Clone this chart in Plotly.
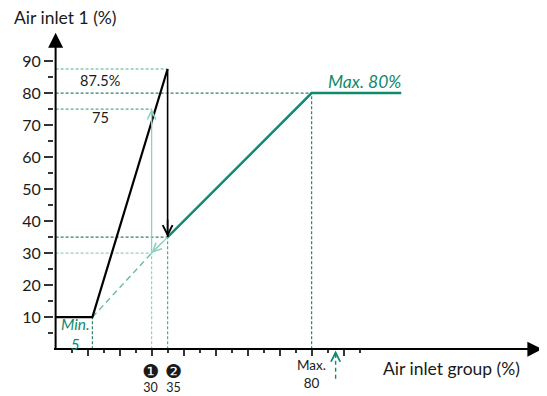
import plotly.graph_objects as go

# ---------------- data ----------------
black_x = [0, 11.5, 35]
black_y = [10, 10, 87.5]
green_x = [35, 80, 108]
green_y = [35, 80, 80]
dash_x = [11.5, 30]
dash_y = [10, 30]

peak_x, peak_y = 35, 87.5      # black arrow down from peak to green line
drop_y = 35
step1_x, step1_y = 30, 30      # light arrow target on dashed line
rise_y = 75                    # light arrow up to 75
cross_x = 87.5                 # arrow on x axis

# guide lines: horizontal from the y axis ; vertical from the x axis
h_guides_y = [87.5, 80, 75, 35, 30]
h_guides_x = [35, 80, 30, 35, 30]
v_guides_x = [11.5, 30, 35, 80]
v_guides_y = [10, 30, 35, 80]

y_ticks = [10, 20, 30, 40, 50, 60, 70, 80, 90]
y_minor = [5, 15, 25, 35, 45, 55, 65, 75, 85]
x_ticks = [10, 20, 30, 40, 50, 60, 70, 80, 90]
x_minor = [5, 15, 25, 35, 45, 55, 65, 75, 85, 95]

X_RANGE = [-0.5, 152.3]
Y_RANGE = [-14, 100]

# ---------------- styles ----------------
FONT = "Lato"
TXT = "#1a1a1a"
GREEN = "#0f8a6e"
LIGHT = "#8fd2c0"
MID = "#4fae98"
DARK = "#2f8171"

h_colors = [MID, DARK, MID, DARK, LIGHT]
v_colors = [DARK, LIGHT, MID, DARK]

# page has an 8px body margin -> figure is 539x388 placed at (8,8)
W, H = 539, 388
M = dict(l=46, r=4, t=21, b=2.2)
PW = W - M["l"] - M["r"]
PH = H - M["t"] - M["b"]

fig = go.Figure()

for xe, yv, c in zip(h_guides_x, h_guides_y, h_colors):
    fig.add_trace(go.Scatter(x=[0, xe], y=[yv, yv], mode="lines",
                             line=dict(color=c, width=1.2, dash="3px,2px"), hoverinfo="skip"))
for xv, yt, c in zip(v_guides_x, v_guides_y, v_colors):
    fig.add_trace(go.Scatter(x=[xv, xv], y=[0, yt], mode="lines",
                             line=dict(color=c, width=1.2, dash="3px,2px"), hoverinfo="skip"))

fig.add_trace(go.Scatter(x=dash_x, y=dash_y, mode="lines",
                         line=dict(color="#5cb8a2", width=1.3, dash="6px,4px"), hoverinfo="skip"))
fig.add_trace(go.Scatter(x=[step1_x, step1_x], y=[step1_y, rise_y], mode="lines",
                         line=dict(color=LIGHT, width=1.3), hoverinfo="skip"))
fig.add_trace(go.Scatter(x=[peak_x, step1_x], y=[drop_y, step1_y], mode="lines",
                         line=dict(color=LIGHT, width=1.3), hoverinfo="skip"))

fig.add_trace(go.Scatter(x=black_x, y=black_y, mode="lines",
                         line=dict(color="black", width=2.2), hoverinfo="skip"))
fig.add_trace(go.Scatter(x=green_x, y=green_y, mode="lines",
                         line=dict(color=GREEN, width=2.4), hoverinfo="skip"))
fig.add_trace(go.Scatter(x=[peak_x, peak_x], y=[peak_y, drop_y], mode="lines",
                         line=dict(color="black", width=1.6), hoverinfo="skip"))

fig.add_trace(go.Scatter(x=[cross_x, cross_x], y=[-9.2, -1], mode="lines",
                         line=dict(color=GREEN, width=1.4, dash="4px,3px"), hoverinfo="skip"))

# y axis line + arrow heads
fig.add_trace(go.Scatter(x=[0, 0], y=[0, 95], mode="lines",
                         line=dict(color="black", width=2), hoverinfo="skip"))
fig.add_trace(go.Scatter(x=[0], y=[98.8], mode="markers", cliponaxis=False,
                         marker=dict(symbol="arrow-up", size=15, color="black",
                                     line=dict(width=0)), hoverinfo="skip"))
fig.add_trace(go.Scatter(x=[152.1], y=[0], mode="markers", cliponaxis=False,
                         marker=dict(symbol="arrow-right", size=15, color="black",
                                     line=dict(width=0)), hoverinfo="skip"))

anns = []
def arrow(x, y, ax, ay, color, width, size=1.0):
    anns.append(dict(x=x, y=y, ax=ax, ay=ay, xref="x", yref="y", axref="x", ayref="y",
                     text="", showarrow=True, arrowhead=5, arrowsize=size,
                     arrowwidth=width, arrowcolor=color))

arrow(peak_x, drop_y, peak_x, drop_y + 6, "black", 1.6, 1.2)
arrow(step1_x, rise_y, step1_x, rise_y - 6, LIGHT, 1.3, 1.3)
arrow(step1_x, step1_y, step1_x + 4, step1_y + 4, LIGHT, 1.3, 1.3)
arrow(cross_x, -0.4, cross_x, -3, GREEN, 1.4, 1.3)

def label(x, y, text, size=15, color=TXT, italic=False, xanchor="center", family=FONT):
    t = "<i>%s</i>" % text if italic else text
    anns.append(dict(x=x, y=y, xref="x", yref="y", text=t, showarrow=False,
                     xanchor=xanchor, yanchor="middle",
                     font=dict(family=family, size=size, color=color)))

# y-axis title sits outside the data range -> paper coordinates
anns.append(dict(x=(12 - 8 - M["l"]) / PW, y=1 + (29 - 18) / PH, xref="paper", yref="paper",
                 text="Air inlet 1 (%)", showarrow=False, xanchor="left", yanchor="middle",
                 font=dict(family=FONT, size=17.5, color=TXT)))

CIRC = ("<span style='font-family:DejaVu Sans;font-size:19px'>%s</span><br>"
        "<span style='font-size:12.5px'>%s</span>")

label(123.6, -5.9, "Air inlet group (%)", 17.5)
label(80, -7.9, "Max.<br>80", 13.5)
label(29.6, -9.0, CIRC % ("❶", "30"), 10.5)
label(36.9, -9.0, CIRC % ("❷", "35"), 10.5)
label(6.2, 4.6, "Min.<br>5", 15.5, GREEN, True)
label(13.9, 84.0, "87.5%", 14.5)
label(13.9, 72.5, "75", 14.5)
label(96.5, 83.6, "Max. 80%", 17.5, GREEN, True)

fig.update_layout(
    width=W, height=H,
    margin=M,
    paper_bgcolor="white", plot_bgcolor="white",
    showlegend=False,
    annotations=anns,
    font=dict(family=FONT, color=TXT),
    xaxis=dict(range=X_RANGE, showgrid=False, zeroline=False,
               showline=True, linecolor="black", linewidth=2,
               anchor="free", position=-Y_RANGE[0] / (Y_RANGE[1] - Y_RANGE[0]),
               tickmode="array", tickvals=x_ticks, showticklabels=False,
               ticks="outside", ticklen=6, tickwidth=2, tickcolor="#333",
               minor=dict(tickmode="array", tickvals=x_minor, ticks="outside",
                          ticklen=3, tickwidth=1.5, tickcolor="#333"),
               fixedrange=True),
    yaxis=dict(range=Y_RANGE, showgrid=False, zeroline=False, showline=False,
               tickmode="array", tickvals=y_ticks,
               ticks="outside", ticklen=9, tickwidth=2, tickcolor="#333",
               tickfont=dict(family=FONT, size=16, color=TXT),
               minor=dict(tickmode="array", tickvals=y_minor, ticks="outside",
                          ticklen=5, tickwidth=1.5, tickcolor="#333"),
               fixedrange=True),
)

fig.write_html("out.html")
